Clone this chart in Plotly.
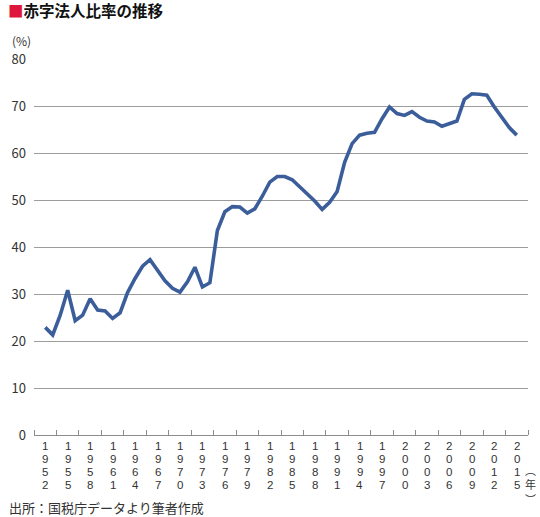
import plotly.graph_objects as go

years = list(range(1952, 2016))
deficit_ratio = [
    22.9, 21.3, 25.5, 30.8, 24.3, 25.5, 29.0, 26.6, 26.4, 24.8,   # 1952-1961
    26.0, 30.3, 33.3, 35.9, 37.3, 35.0, 32.8, 31.2, 30.4, 32.6,   # 1962-1971
    35.7, 31.5, 32.4, 43.5, 47.5, 48.6, 48.5, 47.2, 48.1, 50.8,   # 1972-1981
    53.8, 55.0, 55.0, 54.3, 52.8, 51.3, 49.8, 48.0, 49.5, 51.8,   # 1982-1991
    58.0, 62.0, 63.8, 64.2, 64.4, 67.3, 69.8, 68.4, 68.0, 68.8,   # 1992-2001
    67.6, 66.8, 66.6, 65.7, 66.2, 66.8, 71.4, 72.6, 72.5, 72.3,   # 2002-2011
    69.8, 67.5, 65.4, 63.8,                                       # 2012-2015
]
label_years = list(range(1952, 2016, 3))
y_ticks = list(range(0, 81, 10))

FONT = "Noto Sans CJK JP"
DIGIT_FONT = "Liberation Sans"
L, R, T, B = 28, 12, 59, 82
W, H = 540, 517
pw, ph = W - L - R, H - T - B

def px(x):
    return (x - L) / pw

def py(y):
    return (H - B - y) / ph

fig = go.Figure()
fig.add_trace(go.Scatter(
    x=years, y=deficit_ratio, mode="lines",
    line=dict(color="#3b5e9b", width=3.6),
    hoverinfo="skip", showlegend=False,
))

annotations = [
    dict(text='<span style="color:#e0173c">■</span><b>赤字法人比率の推移</b>',
         xref="paper", yref="paper", x=px(0), y=py(10),
         xanchor="left", yanchor="middle", showarrow=False,
         font=dict(family=FONT, size=15.5, color="#111111")),
    dict(text="(%)", xref="paper", yref="paper", x=px(4), y=py(40),
         xanchor="left", yanchor="middle", showarrow=False,
         font=dict(family=FONT, size=12, color="#333333")),
    dict(text="︵<br>年<br>︶", xref="paper", yref="paper", x=px(531), y=py(484),
         xanchor="center", yanchor="middle", showarrow=False,
         font=dict(family=FONT, size=11, color="#333333")),
    dict(text="出所：国税庁データより筆者作成", xref="paper", yref="paper",
         x=px(1), y=py(508), xanchor="left", yanchor="middle", showarrow=False,
         font=dict(family=FONT, size=13, color="#333333")),
]
# vertical (stacked) year labels, one digit per row
for yr in label_years:
    for i, ch in enumerate(str(yr)):
        annotations.append(dict(
            text=ch, xref="x", yref="paper", x=yr, y=py(446 + 13 * i),
            xanchor="center", yanchor="middle", showarrow=False,
            borderpad=0,
            font=dict(family=DIGIT_FONT, size=11.5, color="#333333")))

fig.update_layout(
    width=W, height=H,
    margin=dict(l=L, r=R, t=T, b=B),
    paper_bgcolor="white", plot_bgcolor="white",
    font=dict(family=FONT, color="#333333"),
    xaxis=dict(
        range=[1950.5, 2016.5],
        tickmode="array", tickvals=label_years, showticklabels=False,
        ticks="", showgrid=False, zeroline=False,
        showline=True, linecolor="#8c8c8c", linewidth=1.3,
        minor=dict(tickmode="array",
                   tickvals=[1950.5 + 3 * k for k in range(23)],
                   ticks="inside", ticklen=5, tickwidth=1.2,
                   tickcolor="#8c8c8c", showgrid=False),
    ),
    yaxis=dict(
        range=[0, 80], tickmode="array", tickvals=y_ticks,
        ticks="", showgrid=True, gridcolor="#9c9c9c", gridwidth=1.3,
        zeroline=False, showline=False, ticklabelstandoff=7,
        tickfont=dict(family=FONT, size=13, color="#333333"),
    ),
    annotations=annotations,
)

fig.write_html("out.html", config={"displayModeBar": False},
               post_script="document.body.style.margin='0';")
